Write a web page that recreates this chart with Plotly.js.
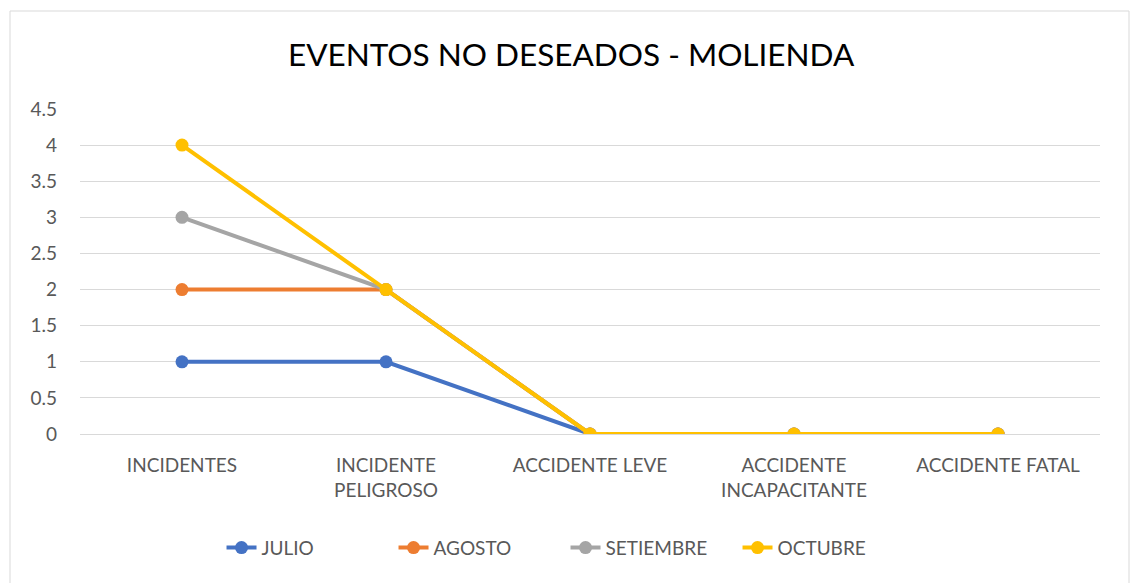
<!DOCTYPE html>
<html>
<head>
<meta charset="utf-8">
<script src="https://cdn.plot.ly/plotly-3.0.1.min.js"></script>
<style>
html,body{margin:0;padding:0;background:#fff;}
#chart{width:1131px;height:583px;}
</style>
</head>
<body>
<div id="chart"></div>
<script>
const categories = ["INCIDENTES", "INCIDENTE<br>PELIGROSO", "ACCIDENTE LEVE", "ACCIDENTE<br>INCAPACITANTE", "ACCIDENTE FATAL"];
const seriesNames = ["JULIO", "AGOSTO", "SETIEMBRE", "OCTUBRE"];
const julio = [1, 1, 0, 0, 0];
const agosto = [2, 2, 0, 0, 0];
const setiembre = [3, 2, 0, 0, 0];
const octubre = [4, 2, 0, 0, 0];
const colors = ["#4472C4", "#ED7D31", "#A5A5A5", "#FFC000"];
const yTicks = [0, 0.5, 1, 1.5, 2, 2.5, 3, 3.5, 4, 4.5];

const values = [julio, agosto, setiembre, octubre];
const data = values.map((v, i) => ({
  type: "scatter",
  mode: "lines+markers",
  name: seriesNames[i],
  x: categories,
  y: v,
  line: {color: colors[i], width: 4},
  marker: {color: colors[i], size: 13}
}));

const font = "Lato, 'Open Sans', sans-serif";
const layout = {
  width: 1131,
  height: 583,
  margin: {l: 80, r: 31, t: 109, b: 149},
  paper_bgcolor: "#fff",
  plot_bgcolor: "#fff",
  title: {
    text: "EVENTOS NO DESEADOS - MOLIENDA",
    font: {family: font, size: 31.5, color: "#000"},
    x: 0.505, xanchor: "center",
    y: 0.905, yanchor: "middle"
  },
  xaxis: {
    type: "category",
    range: [-0.5, 4.5],
    showgrid: false,
    showline: false,
    zeroline: false,
    ticks: "",
    ticklabelstandoff: 18,
    tickfont: {family: font, size: 19, color: "#595959"},
    fixedrange: true
  },
  yaxis: {
    range: [0, 4.5],
    tickvals: yTicks,
    ticktext: yTicks.map(String),
    showgrid: true,
    gridcolor: "#D9D9D9",
    gridwidth: 1,
    zeroline: true,
    zerolinecolor: "#D9D9D9",
    zerolinewidth: 1,
    showline: false,
    ticks: "",
    ticklabelstandoff: 22,
    tickfont: {family: font, size: 19, color: "#595959"},
    fixedrange: true
  },
  showlegend: true,
  legend: {
    orientation: "h",
    x: 0.476, xanchor: "center",
    y: -0.35, yanchor: "middle",
    font: {family: font, size: 19, color: "#595959"},
    entrywidth: 127,
    entrywidthmode: "pixels",
    traceorder: "normal"
  },
  shapes: [{
    type: "rect",
    xref: "paper", yref: "paper",
    x0: (10 - 80) / 1020, x1: (1129 - 80) / 1020,
    y0: (583 - 149 - 600) / 325, y1: (583 - 149 - 11) / 325,
    line: {color: "#D9D9D9", width: 1},
    fillcolor: "rgba(0,0,0,0)",
    layer: "below"
  }]
};

Plotly.newPlot("chart", data, layout, {displayModeBar: false, staticPlot: true});
</script>
</body>
</html>
